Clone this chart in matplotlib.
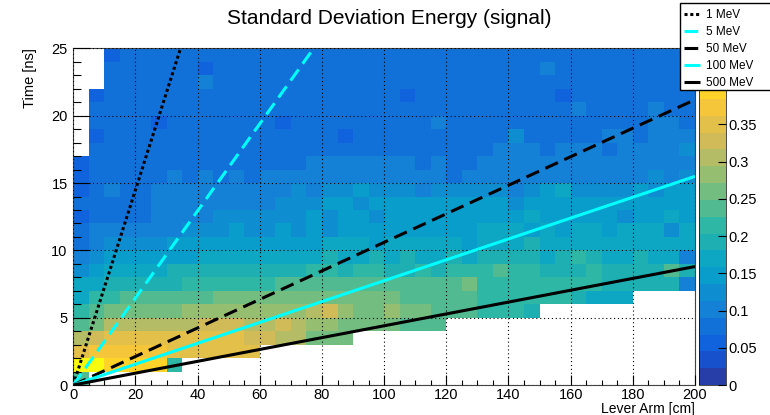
import numpy as np
import matplotlib
matplotlib.use('Agg')
import matplotlib.pyplot as plt
from matplotlib.colors import LinearSegmentedColormap, ListedColormap, BoundaryNorm
from matplotlib.patches import Rectangle

plt.rcParams['font.family'] = ['Liberation Sans', 'DejaVu Sans']

# bins: lever arm 5 cm wide, time 1 ns wide
x_edges = np.arange(0, 201, 5)
y_edges = np.arange(0, 26, 1)

# std dev of energy per bin, in units of 0.01
# rows listed from the top (24-25 ns) down to the bottom (0-1 ns); 0 = empty bin
rows = [
    [0,0,5,8,7,7,7,7,7,8,7,8,8, 8,8,8,8,7,8,8,7,8,7,9,7,7, 8,8,7,7,8,7,7,8,7,8,8,7,8,8],
    [0,0,7,7,7,7,9,7,5,9,7,8,8, 8,8,7,8,8,7,8,8,9,7,8,8,7, 8,7,8,8,10,8,9,8,7,8,8,8,8,8],
    [0,0,7,8,7,9,8,9,10,7,8,8,9, 8,8,7,7,7,8,8,8,8,7,8,7,7, 8,7,7,9,8,8,8,8,7,7,7,8,8,8],
    [0,5,8,7,7,7,7,7,7,7,8,8,7, 8,7,8,8,8,8,9,8,6,9,8,8,8, 8,9,8,8,8,6,9,8,8,8,8,8,8,9],
    [0,7,8,7,8,7,8,8,8,8,8,8,8, 7,8,8,8,7,8,8,8,8,8,8,8,8, 8,9,9,8,8,9,10,8,9,9,9,11,9,9],
    [0,7,7,8,7,6,8,8,7,8,8,7,8, 6,8,8,8,8,8,8,8,8,8,10,8,8, 9,8,9,9,9,9,8,8,9,8,9,10,11,9],
    [0,5,7,8,8,8,8,8,8,9,8,9,9, 9,8,9,8,6,8,7,9,9,8,9,8,7, 9,8,12,9,9,8,9,9,10,10,9,10,10,10],
    [0,8,7,7,8,8,8,8,8,9,9,8,9, 9,8,9,8,8,9,9,9,9,8,9,9,9, 9,10,10,10,8,10,10,10,9,10,10,10,10,12],
    [6,7,7,9,8,8,9,8,9,9,9,9,9, 8,9,10,10,10,10,10,10,10,9,10,9,9, 10,11,10,10,10,10,11,10,10,10,11,10,10,11],
    [6,8,8,9,8,9,10,9,10,9,10,9,10, 10,10,10,10,10,10,10,10,11,11,10,9,10, 11,11,10,11,11,10,11,11,11,11,11,12,11,12],
    [6,8,10,8,9,10,10,10,10,10,10,10,11, 11,12,10,12,12,14,12,12,12,11,12,12,12, 12,12,11,12,14,16,12,12,12,12,14,12,14,14],
    [7,8,9,9,9,10,10,10,10,10,10,11,11, 12,12,12,14,14,12,14,14,14,14,14,15,14, 14,14,12,14,14,14,14,15,14,14,14,15,14,14],
    [6,9,9,9,9,10,10,11,11,12,12,12,12, 13,13,14,13,14,14,13,14,14,15,14,14,14, 14,15,15,16,15,14,14,14,15,12,14,15,16,15],
    [8,10,11,11,11,11,11,12,12,12,14,12,12, 14,12,14,12,14,15,14,15,14,15,14,15,14, 16,16,16,15,16,15,16,16,15,16,16,17,12,17],
    [9,11,12,12,12,12,14,14,14,14,15,14,15, 15,15,15,16,16,16,15,16,16,17,16,16,15, 16,17,17,19,17,16,17,18,17,16,17,18,18,17],
    [10,12,14,15,15,15,15,15,16,16,16,17,16, 17,18,17,19,18,18,19,18,19,18,18,19,17, 19,20,19,19,18,19,21,19,18,17,19,18,17,11],
    [12,15,17,17,18,18,19,19,19,20,19,20,20, 20,20,21,21,20,21,21,20,20,21,20,21,21, 21,23,21,21,20,19,20,21,20,19,20,19,23,19],
    [17,18,19,19,20,20,20,22,22,22,22,22,22, 23,23,23,23,24,23,23,24,23,23,23,23,26, 21,22,22,21,22,21,22,21,19,20,20,19,19,10],
    [18,21,22,23,23,23,24,24,24,25,25,25,25, 25,26,27,27,27,26,25,25,24,24,24,24,23, 22,21,22,22,21,21,20,18,17,18,0,0,0,0],
    [21,23,26,27,27,27,27,28,28,28,28,28,28, 29,29,30,32,29,27,26,29,27,25,24,23,23, 22,21,22,19,0,0,0,0,0,0,0,0,0,0],
    [23,27,30,31,31,31,31,31,32,32,32,31,31, 32,31,29,29,27,27,25,26,24,24,23,0,0, 0,0,0,0,0,0,0,0,0,0,0,0,0,0],
    [30,32,35,35,35,35,35,34,34,34,34,32,32, 31,31,27,26,25,0,0,0,0,0,0,0,0, 0,0,0,0,0,0,0,0,0,0,0,0,0,0],
    [35,38,38,38,38,38,36,34,34,34,34,34,0, 0,0,0,0,0,0,0,0,0,0,0,0,0, 0,0,0,0,0,0,0,0,0,0,0,0,0,0],
    [45,45,39,39,39,39,22,0,0,0,0,0,0, 0,0,0,0,0,0,0,0,0,0,0,0,0, 0,0,0,0,0,0,0,0,0,0,0,0,0,0],
    [23,0,0,0,0,0,0,0,0,0,0,0,0, 0,0,0,0,0,0,0,0,0,0,0,0,0, 0,0,0,0,0,0,0,0,0,0,0,0,0,0],
]
z_max = 0.452
n_contours = 20

# time of flight lines: time read at 200 cm for each energy
line_labels = ['1 MeV', '5 MeV', '50 MeV', '100 MeV', '500 MeV']
t_at_200 = [145.0, 64.7, 21.2, 15.5, 8.8]
line_colors = ['black', 'cyan', 'black', 'cyan', 'black']
line_styles = [(0, (1, 0.9)), (0, (4.5, 2.3)), (0, (4.5, 2.3)), '-', '-']

cbar_ticks = [0, 0.05, 0.1, 0.15, 0.2, 0.25, 0.3, 0.35]
cbar_labels = ['0', '0.05', '0.1', '0.15', '0.2', '0.25', '0.3', '0.35']

# ROOT kBird palette
stops = [0.0, 0.125, 0.25, 0.375, 0.5, 0.625, 0.75, 0.875, 1.0]
red = [0.2082, 0.0592, 0.0780, 0.0232, 0.1802, 0.5301, 0.8186, 0.9956, 0.9764]
green = [0.1664, 0.3599, 0.5041, 0.6419, 0.7178, 0.7492, 0.7328, 0.7862, 0.9832]
blue = [0.5293, 0.8684, 0.8385, 0.7914, 0.6425, 0.4662, 0.3499, 0.1968, 0.0539]
bird = LinearSegmentedColormap.from_list('bird', list(zip(stops, zip(red, green, blue))), N=255)
band_idx = [int((i + 0.99) * 255 / n_contours) for i in range(n_contours)]
cmap = ListedColormap(bird(np.array(band_idx)))
norm = BoundaryNorm(np.linspace(0, z_max, n_contours + 1), n_contours)

z = np.array(rows[::-1], dtype=float) / 100.0
z = np.ma.masked_where(z <= 0, z)

W, H = 770, 415
fig = plt.figure(figsize=(W / 100, H / 100), dpi=100)
ax = fig.add_axes([73.3 / W, 30 / H, (695 - 73.3) / W, (385 - 48.5) / H])
cax = fig.add_axes([699 / W, 30 / H, 27 / W, (385 - 48.5) / H])

mesh = ax.pcolormesh(x_edges, y_edges, z, cmap=cmap, norm=norm, zorder=1)

for lab, t, c, ls in zip(line_labels, t_at_200, line_colors, line_styles):
    ax.plot([x_edges[0], x_edges[-1]], [0, t], color=c, ls=ls, lw=2.2,
            label=lab, zorder=3, solid_capstyle='butt', dash_capstyle='butt')

ax.set_xlim(x_edges[0], x_edges[-1])
ax.set_ylim(y_edges[0], y_edges[-1])
ax.set_xticks(np.arange(0, 201, 20))
ax.set_xticks(np.arange(0, 201, 5), minor=True)
ax.set_yticks(np.arange(0, 26, 5))
ax.set_yticks(np.arange(0, 26, 1), minor=True)
ax.grid(True, which='major', color='black', ls=(0, (1, 2.5)), lw=0.8)
ax.set_axisbelow(False)
ax.tick_params(axis='both', which='both', direction='in', top=False, right=False,
               labelsize=10.5, colors='black')
ax.tick_params(axis='x', which='major', length=7.2, width=0.8, pad=2.5)
ax.tick_params(axis='x', which='minor', length=3.6, width=0.8)
ax.tick_params(axis='y', which='major', length=12, width=0.8, pad=4)
ax.tick_params(axis='y', which='minor', length=6, width=0.8)
for s in ax.spines.values():
    s.set_linewidth(0.8)
    s.set_color('#444444')

ax.set_xlabel('Lever Arm [cm]', loc='right', fontsize=10, labelpad=0)
ax.set_ylabel('Time [ns]', loc='top', fontsize=10.5, labelpad=10)

cb = fig.colorbar(mesh, cax=cax)
cb.set_ticks(cbar_ticks)
cb.set_ticklabels(cbar_labels)
cb.ax.tick_params(direction='in', length=6, width=0.8, labelsize=10.5, pad=2)
cb.ax.minorticks_off()
cb.outline.set_linewidth(0.5)

fig.text(0.506, 1 - 18 / H, 'Standard Deviation Energy (signal)', ha='center', va='center', fontsize=15)

# legend box sticks out past the right edge like the original
fig.patches.append(Rectangle((680 / W, 1 - 90 / H), 0.2, 87 / H, transform=fig.transFigure,
                             facecolor='white', edgecolor='black', lw=1, zorder=4))
fig.legend(loc='upper left', bbox_to_anchor=(682 / W, 1 - 7 / H), frameon=False, fontsize=8.5,
           handlelength=1.3, handletextpad=0.5, labelspacing=0.42, borderpad=0.2, borderaxespad=0)

fig.savefig('out.png', dpi=100)
